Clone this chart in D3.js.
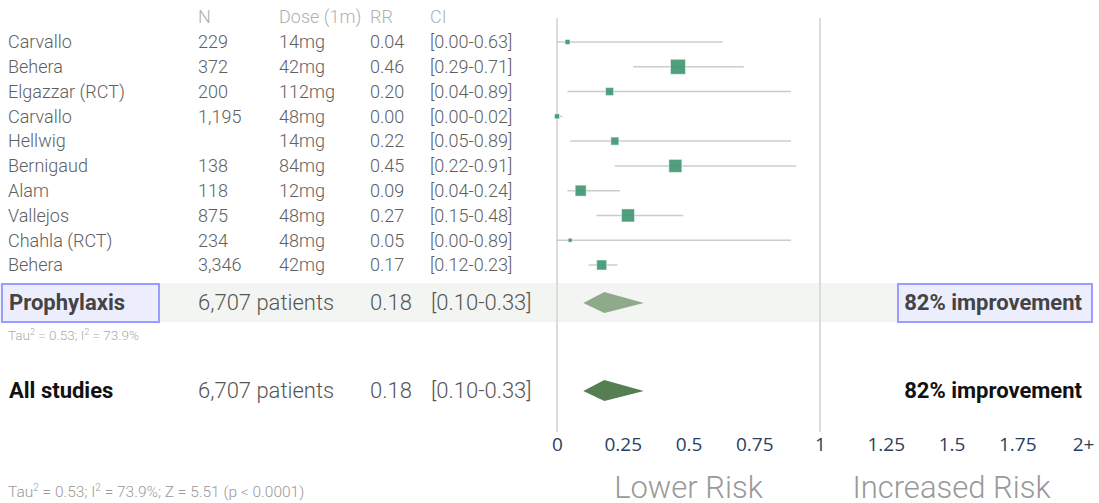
<!DOCTYPE html>
<html>
  <head>
    <style>
      body {
        margin: 0;
        font-family: "Roboto", sans-serif;
        background: #fff;
      }
      svg text {
        font-family: "Roboto", sans-serif;
      }
    </style>
    <script src="https://d3js.org/d3.v7.min.js"></script>
  </head>
  <body>
    <script>
      const width = 1099;
      const height = 503;

      // study rows
      const studies = ["Carvallo", "Behera", "Elgazzar (RCT)", "Carvallo", "Hellwig", "Bernigaud", "Alam", "Vallejos", "Chahla (RCT)", "Behera"];
      const patients = ["229", "372", "200", "1,195", "", "138", "118", "875", "234", "3,346"];
      const doses = ["14mg", "42mg", "112mg", "48mg", "14mg", "84mg", "12mg", "48mg", "48mg", "42mg"];
      const rr = [0.04, 0.46, 0.20, 0.00, 0.22, 0.45, 0.09, 0.27, 0.05, 0.17];
      const ciLow = [0.00, 0.29, 0.04, 0.00, 0.05, 0.22, 0.04, 0.15, 0.00, 0.12];
      const ciHigh = [0.63, 0.71, 0.89, 0.02, 0.89, 0.91, 0.24, 0.48, 0.89, 0.23];
      const weights = [5, 15, 8, 5, 8, 13, 11, 13, 4, 10];

      // pooled results
      const summaryLabels = ["Prophylaxis", "All studies"];
      const summaryN = ["6,707 patients", "6,707 patients"];
      const summaryRR = [0.18, 0.18];
      const summaryLow = [0.10, 0.10];
      const summaryHigh = [0.33, 0.33];
      const summaryEffect = ["82% improvement", "82% improvement"];

      const tickValues = [0, 0.25, 0.5, 0.75, 1, 1.25, 1.5, 1.75, 2];

      const svg = d3.select("body").append("svg")
        .attr("width", width)
        .attr("height", height);

      const x = d3.scaleLinear().domain([0, 2]).range([557, 1083]);
      const y = d3.scaleLinear().domain([0, 9]).range([42, 265]);
      const fmt = d3.format(".2f");

      const colX = { name: 8, n: 198, dose: 279, rr: 370, ci: 430 };

      // prophylaxis band
      svg.append("rect")
        .attr("x", 0).attr("y", 283)
        .attr("width", 1092).attr("height", 39)
        .attr("fill", "#f3f5f2");

      // header
      const header = [["N", colX.n], ["Dose (1m)", colX.dose], ["RR", colX.rr], ["CI", colX.ci]];
      svg.selectAll(".hdr").data(header).enter().append("text")
        .attr("x", d => d[1]).attr("y", 23)
        .attr("fill", "#b0b0b0")
        .style("font-size", "18px")
        .style("font-weight", 300)
        .text(d => d[0]);

      // reference lines at 0 and 1
      svg.selectAll(".ref").data([0, 1]).enter().append("line")
        .attr("x1", d => x(d)).attr("x2", d => x(d))
        .attr("y1", 18).attr("y2", 432)
        .attr("stroke", "#dcdcdc")
        .attr("stroke-width", 2);

      // study rows
      const rows = svg.selectAll(".row").data(studies).enter().append("g")
        .attr("transform", (d, i) => "translate(0," + y(i) + ")");

      const cell = (fn, xPos) => rows.append("text")
        .attr("x", xPos).attr("dy", "0.35em")
        .attr("fill", "#606060")
        .style("font-size", "18px")
        .style("font-weight", 300)
        .text(fn);

      cell(d => d, colX.name);
      cell((d, i) => patients[i], colX.n);
      cell((d, i) => doses[i], colX.dose);
      cell((d, i) => fmt(rr[i]), colX.rr);
      cell((d, i) => "[" + fmt(ciLow[i]) + "-" + fmt(ciHigh[i]) + "]", colX.ci);

      rows.append("line")
        .attr("x1", (d, i) => x(ciLow[i]))
        .attr("x2", (d, i) => x(ciHigh[i]))
        .attr("stroke", "#cccccc")
        .attr("stroke-width", 1.5);

      rows.append("rect")
        .attr("x", (d, i) => x(rr[i]) - weights[i] / 2)
        .attr("y", (d, i) => -weights[i] / 2)
        .attr("width", (d, i) => weights[i])
        .attr("height", (d, i) => weights[i])
        .attr("fill", "#3d9670")
        .attr("fill-opacity", 0.9)
        .attr("stroke", "#ffffff")
        .attr("stroke-opacity", 0.5);

      // summary rows
      const sumY = [302, 390];
      const sumColor = ["#8faa8a", "#557e52"];

      // highlight boxes for prophylaxis
      svg.append("rect")
        .attr("x", 2).attr("y", 284).attr("width", 157).attr("height", 38)
        .attr("fill", "#eceefe").attr("stroke", "#9a9cff").attr("stroke-width", 2);
      svg.append("rect")
        .attr("x", 898).attr("y", 284).attr("width", 194).attr("height", 38)
        .attr("fill", "#eceefe").attr("stroke", "#9a9cff").attr("stroke-width", 2);

      const sums = svg.selectAll(".sum").data(summaryLabels).enter().append("g")
        .attr("transform", (d, i) => "translate(0," + sumY[i] + ")");

      sums.append("text")
        .attr("x", 9).attr("dy", "0.35em")
        .attr("fill", (d, i) => i === 0 ? "#444" : "#111")
        .style("font-size", "22px")
        .style("font-weight", 700)
        .text(d => d);

      const sumCell = (fn, xPos) => sums.append("text")
        .attr("x", xPos).attr("dy", "0.35em")
        .attr("fill", "#555")
        .style("font-size", "22px")
        .style("font-weight", 300)
        .text(fn);

      sumCell((d, i) => summaryN[i], colX.n);
      sumCell((d, i) => fmt(summaryRR[i]), colX.rr);
      sumCell((d, i) => "[" + fmt(summaryLow[i]) + "-" + fmt(summaryHigh[i]) + "]", colX.ci + 1);

      sums.append("path")
        .attr("d", (d, i) => {
          const l = x(summaryLow[i]), c = x(summaryRR[i]), r = x(summaryHigh[i]);
          return "M" + l + ",1 L" + c + ",-10 L" + r + ",1 L" + c + ",11 Z";
        })
        .attr("fill", (d, i) => sumColor[i]);

      sums.append("text")
        .attr("x", 1082).attr("dy", "0.35em")
        .attr("text-anchor", "end")
        .attr("fill", (d, i) => i === 0 ? "#444" : "#111")
        .style("font-size", "22px")
        .style("font-weight", 700)
        .text((d, i) => summaryEffect[i]);

      // heterogeneity notes
      const t1 = svg.append("text").attr("x", 8).attr("y", 340)
        .attr("fill", "#aaa").style("font-size", "13.5px").style("font-weight", 300);
      t1.append("tspan").text("Tau");
      t1.append("tspan").attr("dy", -5).style("font-size", "9px").text("2");
      t1.append("tspan").attr("dy", 5).text(" = 0.53; I");
      t1.append("tspan").attr("dy", -5).style("font-size", "9px").text("2");
      t1.append("tspan").attr("dy", 5).text(" = 73.9%");

      const t2 = svg.append("text").attr("x", 8).attr("y", 497)
        .attr("fill", "#999").style("font-size", "15.5px").style("font-weight", 300);
      t2.append("tspan").text("Tau");
      t2.append("tspan").attr("dy", -6).style("font-size", "10px").text("2");
      t2.append("tspan").attr("dy", 6).text(" = 0.53; I");
      t2.append("tspan").attr("dy", -6).style("font-size", "10px").text("2");
      t2.append("tspan").attr("dy", 6).text(" = 73.9%; Z = 5.51 (p < 0.0001)");

      // axis
      const axis = d3.axisBottom(x)
        .tickValues(tickValues)
        .tickSize(0)
        .tickPadding(0)
        .tickFormat(d => d === 2 ? "2+" : d3.format("")(d));

      const ax = svg.append("g")
        .attr("transform", "translate(0,437)")
        .call(axis);
      ax.select(".domain").remove();
      ax.selectAll("text")
        .attr("fill", "#2a3f5f")
        .style("font-family", "'Open Sans', sans-serif")
        .style("font-size", "19px");

      svg.selectAll(".risk").data([["Lower Risk", 0.5], ["Increased Risk", 1.5]]).enter().append("text")
        .attr("x", d => x(d[1]))
        .attr("y", 498)
        .attr("text-anchor", "middle")
        .attr("fill", "#999")
        .style("font-size", "31px")
        .style("font-weight", 300)
        .text(d => d[0]);
    </script>
  </body>
</html>
